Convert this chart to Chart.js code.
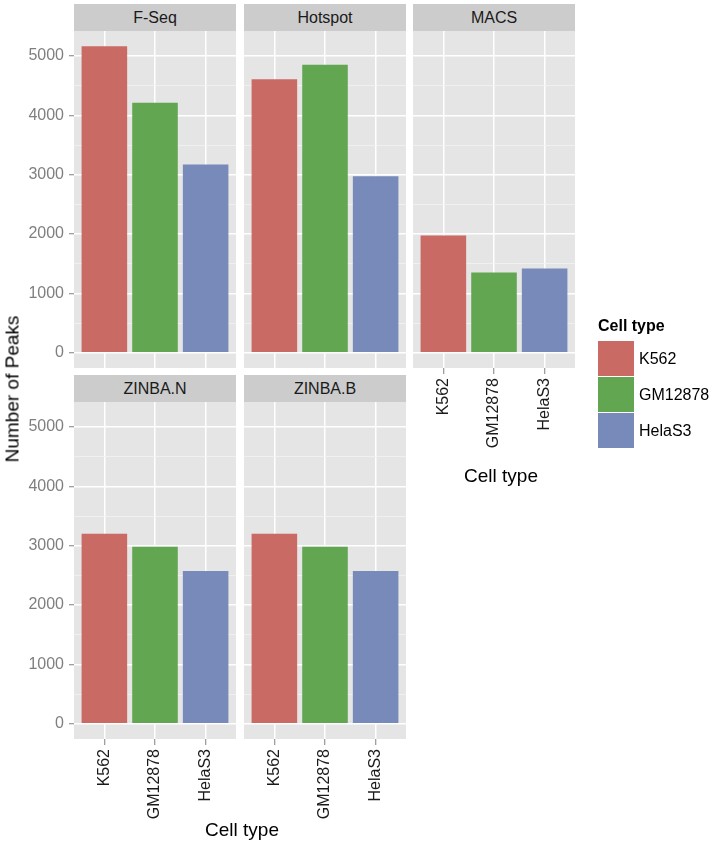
<!DOCTYPE html>
<html lang="en">
<head>
<meta charset="UTF-8">
<title>Number of Peaks by cell type</title>
<script src="https://cdn.jsdelivr.net/npm/chart.js"></script>
<style>
  body { margin: 0; background: #fff; font-family: 'Liberation Sans', Arial, sans-serif; }
  #wrap { position: relative; width: 714px; height: 847px; overflow: hidden; }
  #wrap canvas { position: absolute; left: 0; top: 0; }
  .strip { position: absolute; height: 27px; line-height: 27px; background: #ccc; color: #1a1a1a; font-size: 16px; text-align: center; }
  .title { position: absolute; font-size: 19px; color: #000; white-space: nowrap; line-height: 19px; }
  .key { position: absolute; left: 598px; width: 36px; height: 35px; }
  .klab { position: absolute; left: 639px; font-size: 16px; line-height: 16px; color: #000; }
</style>
</head>
<body>
<div id="wrap"></div>
<script>
  // data
  const cellTypes = ['K562', 'GM12878', 'HelaS3'];
  const cellColors = ['#c96a64', '#63a651', '#778ab9'];
  const methods = ['F-Seq', 'Hotspot', 'MACS', 'ZINBA.N', 'ZINBA.B'];
  const fseq = [5164, 4212, 3172];
  const hotspot = [4607, 4853, 2975];
  const macs = [1974, 1350, 1417];
  const zinbaN = [3202, 2983, 2573];
  const zinbaB = [3202, 2983, 2573];
  const yTicks = [0, 500, 1000, 1500, 2000, 2500, 3000, 3500, 4000, 4500, 5000];

  // facet grid geometry
  const colX = [[74, 236], [244, 406], [413, 575]];
  const rowY = [[31, 368], [402, 739]];
  const W = 714, H = 847;

  Chart.defaults.font.family = "'Liberation Sans', Arial, sans-serif";

  const wrap = document.getElementById('wrap');

  const panelBg = {
    id: 'panelBg',
    beforeDraw(chart) {
      const { ctx, chartArea: a } = chart;
      ctx.save();
      ctx.fillStyle = '#e5e5e5';
      ctx.fillRect(a.left, a.top, a.right - a.left, a.bottom - a.top);
      ctx.restore();
    }
  };

  const isMajor = v => v % 1000 === 0;

  function panel(name, values, col, row, showX) {
    const showY = col === 0;
    const [x0, x1] = colX[col];
    const [y0, y1] = rowY[row];
    const xh = showX ? 80 : 0;

    const strip = document.createElement('div');
    strip.className = 'strip';
    strip.style.left = x0 + 'px';
    strip.style.top = (y0 - 27) + 'px';
    strip.style.width = (x1 - x0) + 'px';
    strip.textContent = name;
    wrap.appendChild(strip);

    const cv = document.createElement('canvas');
    cv.width = W; cv.height = H;
    wrap.appendChild(cv);

    new Chart(cv, {
      type: 'bar',
      data: {
        datasets: [{
          data: values.map((v, i) => ({ x: i + 1, y: v })),
          backgroundColor: cellColors,
          borderWidth: 0,
          barPercentage: 0.9,
          categoryPercentage: 1
        }]
      },
      options: {
        responsive: false,
        animation: false,
        devicePixelRatio: 1,
        layout: { padding: { left: showY ? 0 : x0, right: W - x1, top: y0, bottom: H - y1 - xh } },
        plugins: { legend: { display: false }, tooltip: { enabled: false } },
        scales: {
          x: {
            type: 'linear', min: 0.4, max: 3.6, offset: false,
            border: { display: false },
            afterBuildTicks: s => { s.ticks = cellTypes.map((c, i) => ({ value: i + 1 })); },
            ticks: {
              display: showX, autoSkip: false, minRotation: 90, maxRotation: 90, padding: 4,
              color: '#1a1a1a', font: { size: 16 },
              callback: v => cellTypes[v - 1]
            },
            grid: { color: '#fff', lineWidth: 1.5, offset: false, drawTicks: showX, tickLength: 6, tickColor: '#7f7f7f', tickWidth: 1 },
            afterFit: s => { s.height = xh; s.paddingLeft = 0; s.paddingRight = 0; }
          },
          y: {
            min: -258, max: 5422,
            border: { display: false },
            afterBuildTicks: s => { s.ticks = yTicks.map(v => ({ value: v })); },
            ticks: {
              display: showY, padding: 5, color: '#7f7f7f', font: { size: 16 },
              callback: v => isMajor(v) ? String(v) : ''
            },
            grid: {
              color: c => c.tick && isMajor(c.tick.value) ? '#ffffff' : '#f3f3f3',
              lineWidth: c => c.tick && isMajor(c.tick.value) ? 1.5 : 0.8,
              drawTicks: showY, tickLength: 5, tickWidth: 1,
              tickColor: c => c.tick && isMajor(c.tick.value) ? '#7f7f7f' : 'rgba(0,0,0,0)'
            },
            afterFit: s => { s.width = showY ? 74 : 0; s.paddingTop = 0; s.paddingBottom = 0; }
          }
        }
      },
      plugins: [panelBg]
    });
  }

  panel(methods[0], fseq, 0, 0, false);
  panel(methods[1], hotspot, 1, 0, false);
  panel(methods[2], macs, 2, 0, true);
  panel(methods[3], zinbaN, 0, 1, true);
  panel(methods[4], zinbaB, 1, 1, true);

  function text(cls, str, css) {
    const d = document.createElement('div');
    d.className = cls;
    d.textContent = str;
    Object.assign(d.style, css);
    wrap.appendChild(d);
    return d;
  }

  // axis titles
  const yt = text('title', 'Number of Peaks', { left: '12px', top: '389px' });
  yt.style.transform = 'translate(-50%, -50%) rotate(-90deg)';
  const xt1 = text('title', 'Cell type', { left: '242px', top: '829px' });
  xt1.style.transform = 'translate(-50%, -50%)';
  const xt2 = text('title', 'Cell type', { left: '501px', top: '475px' });
  xt2.style.transform = 'translate(-50%, -50%)';

  // legend
  text('klab', 'Cell type', { left: '598px', top: '318px', fontWeight: 'bold' });
  cellTypes.forEach((c, i) => {
    const k = document.createElement('div');
    k.className = 'key';
    k.style.top = (341 + i * 36) + 'px';
    k.style.background = cellColors[i];
    wrap.appendChild(k);
    text('klab', c, { top: (351 + i * 36) + 'px' });
  });
</script>
</body>
</html>
